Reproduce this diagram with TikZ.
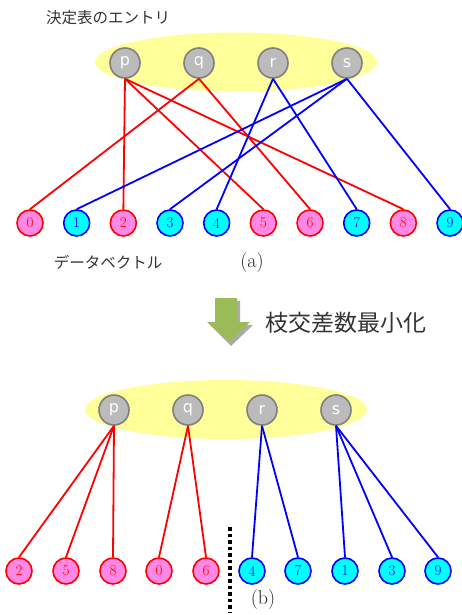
\documentclass[tikz,border=0pt]{standalone}
\usepackage{fontspec}
\usetikzlibrary{shapes.geometric}
\newfontfamily\jp{Noto Sans CJK JP}
\newfontfamily\letfont{DejaVu Sans}
\definecolor{ellfill}{RGB}{255,255,153}
\definecolor{grayfill}{RGB}{187,187,187}
\definecolor{grayline}{RGB}{128,128,128}
\definecolor{pinkfill}{RGB}{255,136,230}
\definecolor{cyanfill}{RGB}{0,255,255}
\definecolor{arrgreen}{RGB}{155,187,89}
\definecolor{arrshadow}{RGB}{170,170,170}
\tikzset{
  entry/.style={circle,minimum size=30pt,inner sep=0pt,fill=grayfill,draw=grayline,line width=1.6pt,text=white,font=\letfont\fontsize{16}{16}\selectfont},
  pinknode/.style={circle,minimum size=26pt,inner sep=0pt,fill=pinkfill,draw=red,line width=1.6pt,text=red,font=\fontsize{15}{15}\selectfont},
  cyannode/.style={circle,minimum size=26pt,inner sep=0pt,fill=cyanfill,draw=blue,line width=1.6pt,text=blue,font=\fontsize{15}{15}\selectfont},
  redge/.style={draw=red,line width=1.8pt},
  bedge/.style={draw=blue,line width=1.8pt},
  jplabel/.style={font=\jp\fontsize{15.5}{15.5}\selectfont,text=black!80},
  sublabel/.style={font=\fontsize{20}{20}\selectfont,text=black!85},
  blob/.style={ellipse,fill=ellfill,minimum width=282pt,minimum height=59pt,inner sep=0pt}
}
\begin{document}
\begin{tikzpicture}[x=1pt,y=-1pt]
\useasboundingbox (0,0) rectangle (462,615);
% ---------- (a) ----------
\node[jplabel] (title) at (108,18) {決定表のエントリ};
\node[blob] (ella) at (236,62) {};
\node[entry] (pa) at (125,63) {p};
\node[entry] (qa) at (199,63) {q};
\node[entry] (ra) at (273,63) {r};
\node[entry] (sa) at (347,63) {s};
\foreach \i/\s in {0/pinknode,1/cyannode,2/pinknode,3/cyannode,4/cyannode,5/pinknode,6/pinknode,7/cyannode,8/pinknode,9/cyannode}{
  \node[\s] (a\i) at ({30+46.67*\i},223) {\i};
}
\draw[redge] (pa.south) -- (a2.north);
\draw[redge] (pa.south) -- (a5.north);
\draw[redge] (pa.south) -- (a8.north);
\draw[redge] (qa.south) -- (a0.north);
\draw[redge] (qa.south) -- (a6.north);
\draw[bedge] (ra.south) -- (a4.north);
\draw[bedge] (ra.south) -- (a7.north);
\draw[bedge] (sa.south) -- (a1.north);
\draw[bedge] (sa.south) -- (a3.north);
\draw[bedge] (sa.south) -- (a9.north);
\node[jplabel] (dv) at (108,262) {データベクトル};
\node[sublabel] (la) at (252,263) {(a)};
% ---------- arrow ----------
\fill[arrshadow] (218,301) -- (240,301) -- (240,325) -- (253,325) -- (231,346) -- (210,325) -- (218,325) -- cycle;
\fill[arrgreen] (215,298) -- (237,298) -- (237,322) -- (250,322) -- (229,342) -- (207,322) -- (215,322) -- cycle;
\node[font=\jp\fontsize{23}{23}\selectfont,text=black!80] (mini) at (346,323) {枝交差数最小化};
% ---------- (b) ----------
\node[blob] (ellb) at (226,409.5) {};
\node[entry] (pb) at (114,410) {p};
\node[entry] (qb) at (188,410) {q};
\node[entry] (rb) at (262,410) {r};
\node[entry] (sb) at (336,410) {s};
\node[pinknode] (b2) at (19,571) {2};
\node[pinknode] (b5) at (66,571) {5};
\node[pinknode] (b8) at (113,571) {8};
\node[pinknode] (b0) at (159,571) {0};
\node[pinknode] (b6) at (206,571) {6};
\node[cyannode] (b4) at (252,571) {4};
\node[cyannode] (b7) at (298,571) {7};
\node[cyannode] (b1) at (345,571) {1};
\node[cyannode] (b3) at (392,571) {3};
\node[cyannode] (b9) at (438,571) {9};
\draw[redge] (pb.south) -- (b2.north);
\draw[redge] (pb.south) -- (b5.north);
\draw[redge] (pb.south) -- (b8.north);
\draw[redge] (qb.south) -- (b0.north);
\draw[redge] (qb.south) -- (b6.north);
\draw[bedge] (rb.south) -- (b4.north);
\draw[bedge] (rb.south) -- (b7.north);
\draw[bedge] (sb.south) -- (b1.north);
\draw[bedge] (sb.south) -- (b3.north);
\draw[bedge] (sb.south) -- (b9.north);
\coordinate (dtop) at (230,527);
\coordinate (dbot) at (230,613);
\draw[line width=3.5pt,dash pattern=on 3.5pt off 3pt] (dtop) -- (dbot);
\node[sublabel] (lb) at (263,600) {(b)};
\end{tikzpicture}
\end{document}
